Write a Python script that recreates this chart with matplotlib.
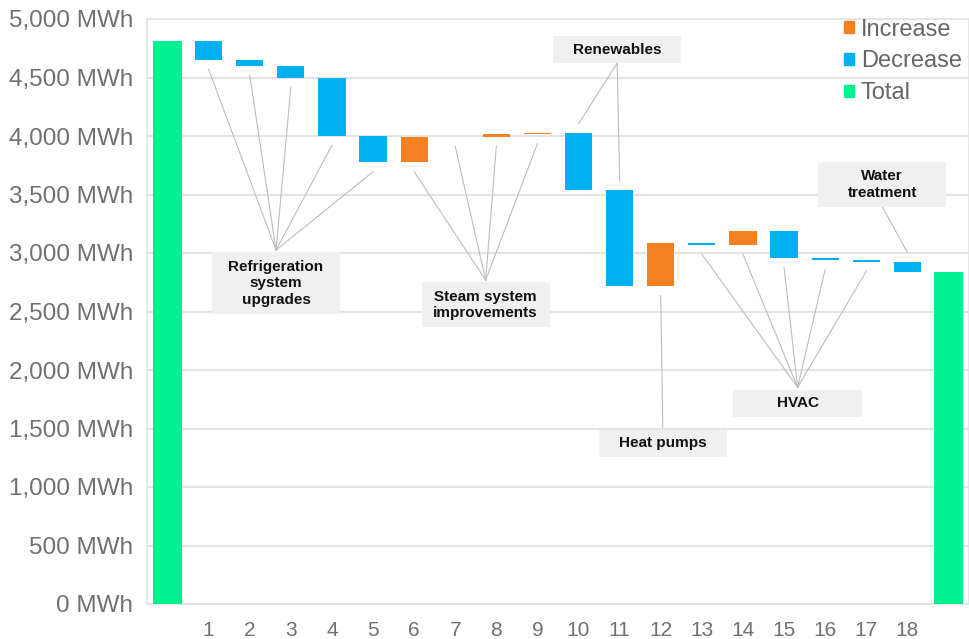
import matplotlib
matplotlib.use("Agg")
import matplotlib.pyplot as plt
from matplotlib.patches import Patch, Rectangle
import numpy as np

plt.rcParams["font.family"] = ["Liberation Sans", "DejaVu Sans"]

# ---- data -------------------------------------------------------------
start_total = 4810
steps = [str(i) for i in range(1, 19)]
deltas = [-160, -50, -100, -500, -225, 215, 5, 20, 10,
          -490, -820, 370, -15, 115, -225, -20, -15, -85]
y_ticks = [0, 500, 1000, 1500, 2000, 2500, 3000, 3500, 4000, 4500, 5000]

# project groups: label, box centre x, box top y, connected steps, box sits above bars?
groups = [
    ("Refrigeration\nsystem\nupgrades", 2.64, 3005, [1, 2, 3, 4, 5], False),
    ("Steam system\nimprovements", 7.74, 2748, [6, 7, 8, 9], False),
    ("Renewables", 10.94, 4854, [10, 11], True),
    ("Heat pumps", 12.05, 1490, [12], False),
    ("HVAC", 15.33, 1832, [13, 14, 15, 16, 17], False),
    ("Water\ntreatment", 17.39, 3776, [18], True),
]

C_INC = "#F4801F"
C_DEC = "#00B0F0"
C_TOT = "#00F290"
GRID = "#e3e3e3"
LINK = "#bdbdbd"

# ---- figure -----------------------------------------------------------
fig = plt.figure(figsize=(9.69, 6.39), dpi=100)
ax = fig.add_axes([147 / 969, 1 - 604 / 639, 822 / 969, 585 / 639])

# waterfall geometry
levels = np.concatenate([[start_total], start_total + np.cumsum(deltas)])
end_total = levels[-1]
bottoms = np.minimum(levels[:-1], levels[1:])
heights = np.abs(deltas)
colors = [C_INC if d > 0 else C_DEC for d in deltas]
xs = np.arange(1, len(deltas) + 1)

ax.bar(0, start_total, width=0.7, color=C_TOT, zorder=3)
ax.bar(len(deltas) + 1, end_total, width=0.7, color=C_TOT, zorder=3)
ax.bar(xs, heights, bottom=bottoms, width=0.66, color=colors, zorder=3)

# connector lines and label boxes
px_per_unit_y = 585 / 5000.0
box_w = 3.12
gap = 80
for label, bx, btop, links, above in groups:
    nlines = label.count("\n") + 1
    bh = (27 + 17.5 * (nlines - 1)) / px_per_unit_y
    bbot = btop - bh
    hub_y = bbot if above else btop + 20
    for s in links:
        i = s - 1
        top = max(levels[i], levels[i + 1])
        low = min(levels[i], levels[i + 1])
        y0 = top + gap if above else low - gap
        ax.plot([s, bx], [y0, hub_y], color=LINK, lw=0.8, zorder=2)
    ax.add_patch(Rectangle((bx - box_w / 2, bbot), box_w, bh,
                           facecolor="#f0f0f0", edgecolor="none", zorder=4))
    ax.text(bx, bbot + bh / 2, label, ha="center", va="center",
            fontsize=11, fontweight="bold", color="#111111",
            linespacing=1.2, zorder=5)

# axes styling
ax.set_xlim(-0.5, len(deltas) + 1.5)
ax.set_ylim(0, 5000)
ax.set_yticks(y_ticks)
ax.set_yticklabels([f"{v:,} MWh" for v in y_ticks])
ax.set_xticks(xs)
ax.set_xticklabels(steps)
ax.tick_params(axis="y", length=0, pad=10, labelsize=17.5, labelcolor="#707070")
ax.tick_params(axis="x", length=0, pad=12, labelsize=15, labelcolor="#707070")
ax.grid(axis="y", color=GRID, lw=1.5, zorder=0)
ax.set_axisbelow(True)
for sp in ax.spines.values():
    sp.set_color(GRID)
    sp.set_linewidth(1.2)

handles = [Patch(color=C_INC, label="Increase"),
           Patch(color=C_DEC, label="Decrease"),
           Patch(color=C_TOT, label="Total")]
leg = ax.legend(handles=handles, loc="upper left",
                bbox_to_anchor=((830 - 147) / 822, 1.025), frameon=False,
                fontsize=17, handlelength=0.4, handleheight=0.4,
                handletextpad=0.3, labelspacing=0.42, borderpad=0.1)
for t in leg.get_texts():
    t.set_color("#666666")

fig.savefig("out.png", dpi=100)
